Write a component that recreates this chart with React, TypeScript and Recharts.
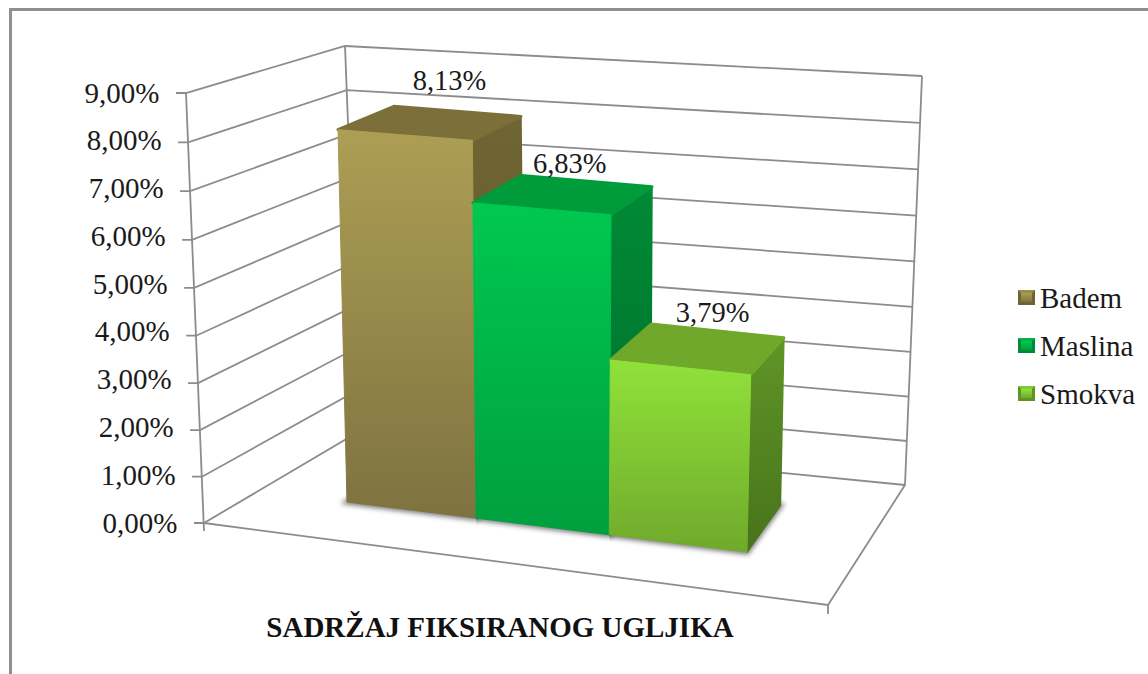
import React from 'react';
import { BarChart, Bar, XAxis, YAxis, Legend, LabelList, CartesianGrid } from 'recharts';

const CATEGORY = 'SADRŽAJ FIKSIRANOG UGLJIKA';
const SERIES_NAMES = ['Badem', 'Maslina', 'Smokva'];
const SERIES_VALUES = [8.13, 6.83, 3.79];
const Y_TICKS = [0, 1, 2, 3, 4, 5, 6, 7, 8, 9];
const SERIES_COLORS = ['#a99a50', '#00c04c', '#86d436'];

const data = [
  {
    category: CATEGORY,
    [SERIES_NAMES[0]]: SERIES_VALUES[0],
    [SERIES_NAMES[1]]: SERIES_VALUES[1],
    [SERIES_NAMES[2]]: SERIES_VALUES[2],
  },
];

const W = 1148;
const H = 674;
const PLOT = { left: 200, right: 800, top: 93, bottom: 523 };
const FONT = '"Liberation Serif", "Times New Roman", serif';
const LINE = '#8c8c8c';
const LINE_W = 1.8;

const PALETTES = [
  { id: 'a', frontTop: '#ad9e54', frontBot: '#7e7240', top: '#7c6f3a', sideTop: '#6f6534', sideBot: '#5c5329' },
  { id: 'b', frontTop: '#00c850', frontBot: '#009f3e', top: '#009c3c', sideTop: '#008a36', sideBot: '#006c2a' },
  { id: 'c', frontTop: '#90e23a', frontBot: '#70a92c', top: '#6fa82a', sideTop: '#5f9526', sideBot: '#47731b' },
];
const LABEL_NUDGE = [
  [-8, -30],
  [-17, -17],
  [-5, -18],
];

type Pt = [number, number];

// projective map from the plot's unit square to the front plane of the bars
const homography = (p0: Pt, p1: Pt, p2: Pt, p3: Pt) => {
  const dx1 = p1[0] - p2[0];
  const dx2 = p3[0] - p2[0];
  const sx = p0[0] - p1[0] + p2[0] - p3[0];
  const dy1 = p1[1] - p2[1];
  const dy2 = p3[1] - p2[1];
  const sy = p0[1] - p1[1] + p2[1] - p3[1];
  const den = dx1 * dy2 - dx2 * dy1;
  const g = (sx * dy2 - dx2 * sy) / den;
  const h = (dx1 * sy - sx * dy1) / den;
  const a = p1[0] - p0[0] + g * p1[0];
  const b = p3[0] - p0[0] + h * p3[0];
  const d = p1[1] - p0[1] + g * p1[1];
  const e = p3[1] - p0[1] + h * p3[1];
  return (u: number, v: number): Pt => {
    const w = g * u + h * v + 1;
    return [(a * u + b * v + p0[0]) / w, (d * u + e * v + p0[1]) / w];
  };
};
const frontPlane = homography([347, 502], [747, 552], [756, 119], [337, 88]);

const project = (x: number, y: number): Pt =>
  frontPlane((x - PLOT.left) / (PLOT.right - PLOT.left), (PLOT.bottom - y) / (PLOT.bottom - PLOT.top));

const VP: Pt = [1355, -295];
const depth = (p: Pt): Pt => [p[0] + 0.055 * (VP[0] - p[0]), p[1] + 0.055 * (VP[1] - p[1])];

const poly = (pts: Pt[]) => pts.map((p) => `${p[0].toFixed(1)},${p[1].toFixed(1)}`).join(' ');

// interpolation along a wall edge with slight perspective
const edge = (a: Pt, b: Pt, t: number): Pt => {
  const w = 0.965;
  const d = 1 - t + w * t;
  return [(a[0] * (1 - t) + w * b[0] * t) / d, (a[1] * (1 - t) + w * b[1] * t) / d];
};
const FRONT_LEFT: [Pt, Pt] = [[204, 523], [186, 93]];
const BACK_LEFT: [Pt, Pt] = [[360, 431], [345, 46]];
const BACK_RIGHT: [Pt, Pt] = [[905, 485], [922, 76]];
const FRONT_RIGHT: Pt = [828, 605];

const fmt = (v: number) => `${v.toFixed(2).replace('.', ',')}%`;

const Line3 = ({ pts }: { pts: Pt[] }) => (
  <polyline points={poly(pts)} fill="none" stroke={LINE} strokeWidth={LINE_W} />
);

const renderGridLine = (props: any) => {
  const y = props.y1;
  const t = (PLOT.bottom - y) / (PLOT.bottom - PLOT.top);
  const a = edge(FRONT_LEFT[0], FRONT_LEFT[1], t);
  const b = edge(BACK_LEFT[0], BACK_LEFT[1], t);
  const c = edge(BACK_RIGHT[0], BACK_RIGHT[1], t);
  const isFloor = Math.abs(y - PLOT.bottom) < 0.5;
  return (
    <g key={`wall-${y}`}>
      <Line3 pts={[[a[0] - 10, a[1]], a, b, c]} />
      {isFloor && (
        <>
          <Line3 pts={[BACK_LEFT[1], BACK_LEFT[0]]} />
          <Line3 pts={[BACK_RIGHT[1], BACK_RIGHT[0], FRONT_RIGHT, FRONT_LEFT[0]]} />
          <Line3 pts={[FRONT_LEFT[1], [FRONT_LEFT[0][0], FRONT_LEFT[0][1] + 8]]} />
          <Line3 pts={[FRONT_RIGHT, [FRONT_RIGHT[0], FRONT_RIGHT[1] + 9]]} />
        </>
      )}
    </g>
  );
};

const renderTick = (props: any) => {
  const { y, payload } = props;
  const t = (PLOT.bottom - y) / (PLOT.bottom - PLOT.top);
  const a = edge(FRONT_LEFT[0], FRONT_LEFT[1], t);
  return (
    <text x={a[0] - 26.5} y={y + 9.5} textAnchor="end" fontFamily={FONT} fontSize={29} fill="#1a1a1a">
      {fmt(payload.value)}
    </text>
  );
};

const makeShape = (i: number) => (props: any) => {
  const { x, y, width, height } = props;
  const pal = PALETTES[i];
  const fl = project(x, y + height);
  const fr = project(x + width, y + height);
  const tr = project(x + width, y);
  const tl = project(x, y);
  const bl = depth(fl);
  const br = depth(fr);
  const btr = depth(tr);
  const btl = depth(tl);
  const clip: Pt[] = i === 0 ? [[0, 0], [W, 0], [W, H], [0, H]] : [tl, [W, tl[1]], [W, H], [fl[0], H], fl];
  return (
    <g>
      <clipPath id={`shadow-clip-${pal.id}`}>
        <polygon points={poly(clip)} />
      </clipPath>
      <g clipPath={`url(#shadow-clip-${pal.id})`}>
        <polygon points={poly([fl, fr, br, bl])} fill="#222" stroke="#222" strokeWidth={5} opacity={0.6} filter="url(#soft)" />
      </g>
      <polygon points={poly([fr, br, btr, tr])} fill={`url(#side-${pal.id})`} stroke={`url(#side-${pal.id})`} strokeWidth={1.5} strokeLinejoin="round" />
      <polygon points={poly([tl, tr, btr, btl])} fill={pal.top} stroke={pal.top} strokeWidth={3} strokeLinejoin="round" />
      <polygon points={poly([fl, fr, tr, tl])} fill={`url(#front-${pal.id})`} stroke={`url(#front-${pal.id})`} strokeWidth={1} strokeLinejoin="round" />
    </g>
  );
};

const makeLabel = (i: number) => (props: any) => {
  const { x, y, width, value } = props;
  const a = depth(project(x, y));
  const b = depth(project(x + width, y));
  return (
    <text
      x={(a[0] + b[0]) / 2 + LABEL_NUDGE[i][0]}
      y={(a[1] + b[1]) / 2 + LABEL_NUDGE[i][1] + 9}
      textAnchor="middle"
      fontFamily={FONT}
      fontSize={28.5}
      fill="#1a1a1a"
    >
      {fmt(value)}
    </text>
  );
};

const renderLegend = (props: any) => (
  <div style={{ fontFamily: FONT, fontSize: 29, color: '#1a1a1a', lineHeight: '48px', whiteSpace: 'nowrap' }}>
    {props.payload.map((entry: any, i: number) => (
      <div key={entry.value} style={{ display: 'flex', alignItems: 'center' }}>
        <svg width={22} height={18} style={{ flex: 'none', marginTop: -1 }}>
          <rect x={0} y={1} width={17} height={15} fill={PALETTES[i].sideTop} />
          <polygon points="0,1 17,1 14,4 3,4" fill={PALETTES[i].frontTop} opacity={0.7} />
          <rect x={3} y={4} width={11} height={9} fill={`url(#front-${PALETTES[i].id})`} />
        </svg>
        <span style={{ marginLeft: 0 }}>{entry.value}</span>
      </div>
    ))}
  </div>
);

export default function App() {
  return (
    <div style={{ position: 'absolute', left: 0, top: 0, width: W, height: H, overflow: 'hidden', background: '#fff' }}>
      <div style={{ position: 'absolute', left: 9, top: 8, right: 0, bottom: 0, borderTop: '3px solid #8f8f8f', borderLeft: '3px solid #8f8f8f' }} />
      <div style={{ position: 'absolute', left: 0, top: 0 }}>
        <BarChart
          width={W}
          height={H}
          data={data}
          barCategoryGap={0}
          barGap={0}
          margin={{ left: 0, right: W - PLOT.right, top: PLOT.top, bottom: H - PLOT.bottom }}
        >
          <defs>
            <filter id="soft" x="-30%" y="-30%" width="160%" height="160%">
              <feGaussianBlur stdDeviation="2.5" />
            </filter>
            {PALETTES.map((p) => (
              <React.Fragment key={p.id}>
                <linearGradient id={`front-${p.id}`} x1="0" y1="0" x2="0" y2="1">
                  <stop offset="0" stopColor={p.frontTop} />
                  <stop offset="1" stopColor={p.frontBot} />
                </linearGradient>
                <linearGradient id={`side-${p.id}`} x1="0" y1="0" x2="0" y2="1">
                  <stop offset="0" stopColor={p.sideTop} />
                  <stop offset="1" stopColor={p.sideBot} />
                </linearGradient>
              </React.Fragment>
            ))}
          </defs>
          <CartesianGrid vertical={false} horizontal={renderGridLine} />
          <XAxis dataKey="category" hide height={0} />
          <YAxis
            width={PLOT.left}
            domain={[0, 9]}
            ticks={Y_TICKS}
            interval={0}
            axisLine={false}
            tickLine={false}
            tick={renderTick}
          />
          {SERIES_NAMES.map((name, i) => (
            <Bar key={name} dataKey={name} fill={SERIES_COLORS[i]} isAnimationActive={false} shape={makeShape(i)}>
              <LabelList dataKey={name} content={makeLabel(i)} />
            </Bar>
          ))}
          <Legend
            layout="vertical"
            align="center"
            verticalAlign="middle"
            content={renderLegend}
            wrapperStyle={{ left: 1018, top: 274, width: 130 }}
          />
          <text x={500} y={637} textAnchor="middle" fontFamily={FONT} fontSize={29} fontWeight="bold" fill="#111">
            {CATEGORY}
          </text>
        </BarChart>
      </div>
    </div>
  );
}
